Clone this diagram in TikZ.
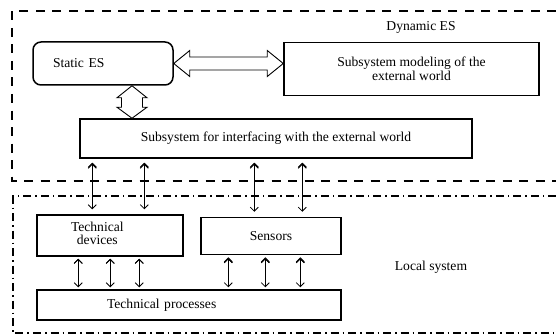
\documentclass[tikz,border=0pt]{standalone}
\usepackage{fontspec}
\setmainfont{Liberation Serif}
\usetikzlibrary{arrows.meta}
\usetikzlibrary{calc}

\begin{document}
\begin{tikzpicture}[x=1pt,y=-1pt,
    font=\fontsize{13.6}{14}\selectfont,
    box/.style={draw,rectangle,line width=1.5pt,inner sep=0pt},
    wide/.style={draw,line width=0.9pt,fill=white,line join=miter},
    link/.style={draw,line width=0.8pt,{Straight Barb[length=4pt,width=8pt]}-{Straight Barb[length=4pt,width=8pt]}}]

  \clip (0,0) rectangle (556,334);
  \useasboundingbox (0,0) rectangle (556,334);

  % outer frames
  \draw [line width=1.8pt,dash pattern=on 9pt off 7.5pt]
    (556,11) -- (12,11) -- (12,181) -- (556,181);
  \draw [line width=1.5pt,dash pattern=on 8pt off 4pt on 1.5pt off 4pt]
    (556,196) -- (13,196) -- (13,333) -- (556,333);

  \node (dyn) at (421,27) {Dynamic ES};
  \node (loc) at (431,267) {Local system};

  \node [box,rounded corners=8pt,minimum width=140pt,minimum height=43pt,
         inner xsep=20pt,text width=100pt,align=left] (static) at (103,63.5) {Static ES};
  \node [box,minimum width=255pt,minimum height=53pt,align=center] (model) at (411.5,69)
    {Subsystem modeling of the\\external world};
  \node [box,minimum width=392pt,minimum height=39pt] (iface) at (276,138.5)
    {Subsystem for interfacing with the external world};

  \node [box,minimum width=146pt,minimum height=41pt,
         inner xsep=34pt,text width=78pt,align=left] (devices) at (110,235.5)
    {\begin{tabular}{@{}c@{}}Technical\\[-1pt]devices\end{tabular}};
  \node [box,minimum width=140pt,minimum height=37pt] (sensors) at (271,236) {Sensors};
  \node [box,minimum width=304pt,minimum height=30pt,
         inner xsep=70pt,text width=164pt,align=left] (procs) at (189,305) {Technical processes};

  % hollow double arrows
  \coordinate (hA) at (static.east);
  \coordinate (hB) at (static.east -| model.west);
  \path [wide] (hA) -- ($(hA)+(16,-13)$) -- ($(hA)+(16,-6.5)$) -- ($(hB)+(-16,-6.5)$)
    -- ($(hB)+(-16,-13)$) -- (hB) -- ($(hB)+(-16,13)$) -- ($(hB)+(-16,6.5)$)
    -- ($(hA)+(16,6.5)$) -- ($(hA)+(16,13)$) -- cycle;

  \coordinate (vA) at ([xshift=29pt]static.south);
  \coordinate (vB) at (vA |- iface.north);
  \path [wide] (vA) -- ($(vA)+(15,12)$) -- ($(vA)+(10.5,12)$) -- ($(vB)+(10.5,-11)$)
    -- ($(vB)+(15,-11)$) -- (vB) -- ($(vB)+(-15,-11)$) -- ($(vB)+(-10.5,-11)$)
    -- ($(vA)+(-10.5,12)$) -- ($(vA)+(-15,12)$) -- cycle;

  % thin links
  \foreach \dx in {56,108}
    \path [link,shorten <=4pt,shorten >=5pt]
      ($(devices.north west)+(\dx,0)$) coordinate (a) (a |- iface.south) edge (a);
  \foreach \dx in {54,102}
    \path [link,shorten <=4pt,shorten >=5pt]
      ($(sensors.north west)+(\dx,0)$) coordinate (a) (a |- iface.south) edge (a);
  \foreach \dx in {42,74,103}
    \path [link,shorten <=2pt,shorten >=2pt]
      ($(devices.south west)+(\dx,0)$) coordinate (a) (a) edge (a |- procs.north);
  \foreach \dx in {28,65,100}
    \path [link,shorten <=3pt,shorten >=2pt]
      ($(sensors.south west)+(\dx,0)$) coordinate (a) (a) edge (a |- procs.north);

\end{tikzpicture}
\end{document}
